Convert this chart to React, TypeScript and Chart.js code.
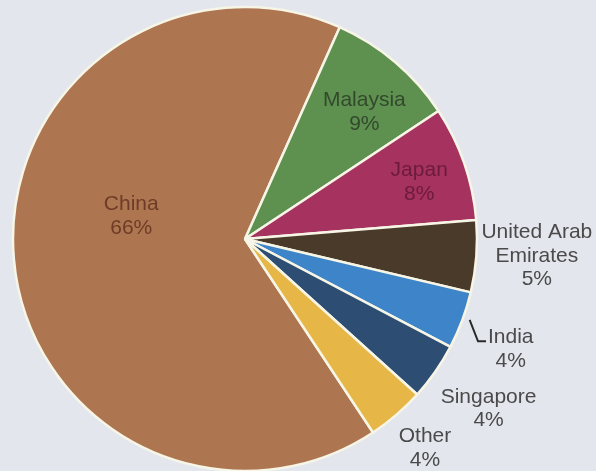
import React, { useEffect, useRef } from "react";
import { Chart, registerables } from "chart.js";

Chart.register(...registerables);

const categories = ["China", "Malaysia", "Japan", "United Arab\nEmirates", "India", "Singapore", "Other"];
const shares = [66, 9, 8, 5, 4, 4, 4];
const sliceColors = ["#ad7651", "#5e9150", "#a5325f", "#4a3a2a", "#3d85c8", "#2d4e72", "#e6b646"];
const labelColors = ["rgba(90,40,25,0.75)", "rgba(40,55,35,0.8)", "rgba(90,20,45,0.75)", "#4a4a4a", "#4a4a4a", "#4a4a4a", "#4a4a4a"];
const labelRadius = [0.5, 0.75, 0.79, 1.26, 1.24, 1.28, 1.19];
const labelAngleShift = [16, 3, 1, -1, 2, 0, 0];

const labelPlugin = {
  id: "sliceLabels",
  afterDatasetsDraw(chart: any) {
    const ctx = chart.ctx;
    const meta = chart.getDatasetMeta(0);
    const total = shares.reduce((a, b) => a + b, 0);
    ctx.save();
    ctx.font = "21px 'Liberation Sans', Arial, sans-serif";
    ctx.textAlign = "center";
    ctx.textBaseline = "middle";
    meta.data.forEach((arc: any, i: number) => {
      const { x, y, startAngle, endAngle, outerRadius } = arc.getProps(["x", "y", "startAngle", "endAngle", "outerRadius"], true);
      const mid = (startAngle + endAngle) / 2 + (labelAngleShift[i] * Math.PI) / 180;
      const r = outerRadius * labelRadius[i];
      const cx = x + Math.cos(mid) * r;
      const cy = y + Math.sin(mid) * r;
      const lines = categories[i].split("\n");
      lines.push(Math.round((shares[i] / total) * 100) + "%");
      const lh = 23.5;
      const top = cy - ((lines.length - 1) * lh) / 2;
      ctx.fillStyle = labelColors[i];
      lines.forEach((ln, k) => ctx.fillText(ln, cx, top + k * lh));
      if (categories[i] === "India") {
        const m = (startAngle + endAngle) / 2;
        const sx = x + Math.cos(m) * outerRadius * 1.02 + 3;
        const sy = y + Math.sin(m) * outerRadius * 1.02 - 2;
        const w = ctx.measureText(lines[0]).width;
        const ex = cx - w / 2 - 2;
        ctx.strokeStyle = "#2a2a2a";
        ctx.lineWidth = 2;
        ctx.beginPath();
        ctx.moveTo(sx, sy);
        ctx.lineTo(ex - 8, top + 4);
        ctx.lineTo(ex, top + 4);
        ctx.stroke();
      }
    });
    ctx.restore();
  },
};

export default function App() {
  const ref = useRef<HTMLCanvasElement | null>(null);
  useEffect(() => {
    document.body.style.margin = "0";
    document.body.style.background = "#e4e6ed";
    const chart = new Chart(ref.current as HTMLCanvasElement, {
      type: "pie",
      data: {
        labels: categories.map((c) => c.replace("\n", " ")),
        datasets: [
          {
            data: shares,
            backgroundColor: sliceColors,
            borderColor: "#f7f5e6",
            borderWidth: 2.5,
          },
        ],
      },
      options: {
        responsive: false,
        animation: false,
        rotation: 146.5,
        radius: 232,
        layout: { padding: { left: 0, right: 106, top: 7, bottom: 0 } },
        plugins: { legend: { display: false }, tooltip: { enabled: false } },
      },
      plugins: [labelPlugin],
    });
    return () => chart.destroy();
  }, []);
  return (
    <div style={{ width: 596, height: 471, background: "#e4e6ed" }}>
      <canvas ref={ref} width={596} height={471} style={{ display: "block" }} />
    </div>
  );
}
